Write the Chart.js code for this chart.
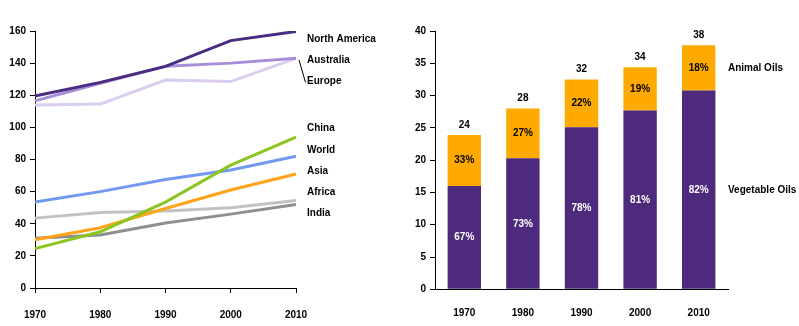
<!DOCTYPE html>
<html>
<head>
<meta charset="utf-8">
<script src="https://cdn.jsdelivr.net/npm/chart.js@4"></script>
<style>
  body { margin: 0; background: #fff; }
  .wrap { position: absolute; top: 0; width: 400px; height: 326px; }
</style>
</head>
<body>
<div class="wrap" style="left:0"><canvas id="lineChart" width="400" height="326"></canvas></div>
<div class="wrap" style="left:400px;width:399px"><canvas id="barChart" width="399" height="326"></canvas></div>
<script>
// data - left chart
const years = ["1970", "1980", "1990", "2000", "2010"];
const northAmerica = [119.5, 128, 138, 154, 159.7];
const australia = [116.5, 127.5, 138, 140, 143];
const europe = [114, 114.5, 129.5, 128.5, 143];
const china = [24.5, 35, 53.5, 76.5, 94];
const world = [53.5, 60, 67.5, 73.5, 82];
const asia = [30, 37.5, 49.5, 61, 71];
const africa = [43.5, 47, 48, 50, 54.5];
const india = [31, 33, 40.5, 46, 52];
// where the region names sit (in axis units)
const regionNames = ["North America", "Australia", "Europe", "China", "World", "Asia", "Africa", "India"];
const regionLabelY = [154.9, 141.8, 128.7, 99.4, 85.7, 72.7, 59.6, 46.5];

// data - right chart
const vegetableOils = [16, 20.3, 25.1, 27.7, 30.8];
const animalOils = [7.9, 7.7, 7.4, 6.7, 7.0];
const totalLabels = ["24", "28", "32", "34", "38"];
const vegPct = ["67%", "73%", "78%", "81%", "82%"];
const animalPct = ["33%", "27%", "22%", "19%", "18%"];

const FONT = "'Liberation Sans', Arial, sans-serif";
Chart.defaults.font.family = FONT;
Chart.defaults.font.size = 10;
Chart.defaults.font.weight = "bold";
Chart.defaults.color = "#000";

function axisY(max, step) {
  return {
    min: 0, max: max,
    ticks: { stepSize: step, padding: 4, font: { weight: "bold", size: 10 } },
    grid: { drawOnChartArea: false, drawTicks: true, tickLength: 5, color: "#000" },
    border: { color: "#000", width: 1 },
    afterFit: s => { s.width = 35; }
  };
}

// names at right of line chart
const lineLabels = {
  id: "lineLabels",
  afterDraw(chart) {
    const ctx = chart.ctx, y = chart.scales.y, x0 = chart.chartArea.right + 11;
    ctx.save();
    ctx.font = "bold 10px " + FONT;
    ctx.fillStyle = "#000";
    ctx.textBaseline = "middle";
    regionNames.forEach((n, i) => ctx.fillText(n, x0, y.getPixelForValue(regionLabelY[i])));
    // little connector from line end to Europe label
    ctx.strokeStyle = "#000";
    ctx.lineWidth = 1;
    ctx.beginPath();
    ctx.moveTo(chart.chartArea.right + 3, y.getPixelForValue(142));
    ctx.lineTo(chart.chartArea.right + 9.5, y.getPixelForValue(128));
    ctx.stroke();
    ctx.restore();
  }
};

function ds(label, data, color) {
  return { label, data, borderColor: color, backgroundColor: color, borderWidth: 3, pointRadius: 0, tension: 0 };
}

new Chart(document.getElementById("lineChart"), {
  type: "line",
  data: {
    labels: years,
    datasets: [
      ds("North America", northAmerica, "#4b2c80"),
      ds("Australia", australia, "#a88dd8"),
      ds("Europe", europe, "#dacdef"),
      ds("China", china, "#8cc520"),
      ds("World", world, "#7298f2"),
      ds("Asia", asia, "#ffa31a"),
      ds("India", india, "#8f8f8f"),
      ds("Africa", africa, "#c2c2c2")
    ]
  },
  options: {
    responsive: false,
    animation: false,
    layout: { padding: { top: 31, right: 104, left: 0, bottom: 0 } },
    plugins: { legend: { display: false }, tooltip: { enabled: false } },
    scales: {
      x: {
        offset: false,
        ticks: { padding: 16, maxRotation: 0, font: { weight: "bold", size: 10 } },
        grid: { drawOnChartArea: false, drawTicks: true, tickLength: 5, color: "#000", offset: false },
        border: { color: "#000", width: 1 },
        afterFit: s => { s.height = 38; }
      },
      y: axisY(160, 20)
    }
  },
  plugins: [lineLabels]
});

// labels on the stacked bars
const barLabels = {
  id: "barLabels",
  afterDatasetsDraw(chart) {
    const ctx = chart.ctx, x = chart.scales.x, y = chart.scales.y;
    ctx.save();
    ctx.font = "bold 10px " + FONT;
    ctx.textAlign = "center";
    ctx.textBaseline = "middle";
    years.forEach((yr, i) => {
      const px = x.getPixelForValue(i);
      const v = vegetableOils[i], a = animalOils[i];
      ctx.fillStyle = "#fff";
      ctx.fillText(vegPct[i], px, y.getPixelForValue(v / 2));
      ctx.fillStyle = "#000";
      ctx.fillText(animalPct[i], px, y.getPixelForValue(v + a / 2));
      ctx.fillText(totalLabels[i], px, y.getPixelForValue(v + a) - 10);
    });
    const last = years.length - 1;
    ctx.textAlign = "left";
    const xr = chart.chartArea.right;
    ctx.fillText("Animal Oils", xr, y.getPixelForValue(vegetableOils[last] + animalOils[last] / 2));
    ctx.fillText("Vegetable Oils", xr, y.getPixelForValue(vegetableOils[last] / 2));
    ctx.restore();
  }
};

new Chart(document.getElementById("barChart"), {
  type: "bar",
  data: {
    labels: years,
    datasets: [
      { label: "Vegetable Oils", data: vegetableOils, backgroundColor: "#4e2a7d" },
      { label: "Animal Oils", data: animalOils, backgroundColor: "#ffaa00" }
    ]
  },
  options: {
    responsive: false,
    animation: false,
    layout: { padding: { top: 31, right: 71, left: 0, bottom: 0 } },
    datasets: { bar: { categoryPercentage: 1, barPercentage: 0.57 } },
    plugins: { legend: { display: false }, tooltip: { enabled: false } },
    scales: {
      x: {
        stacked: true,
        ticks: { padding: 10, maxRotation: 0, font: { weight: "bold", size: 10 } },
        grid: { display: false },
        border: { color: "#000", width: 1 },
        afterFit: s => { s.height = 36.7; }
      },
      y: Object.assign(axisY(40, 5), { stacked: true })
    }
  },
  plugins: [barLabels]
});
</script>
</body>
</html>
